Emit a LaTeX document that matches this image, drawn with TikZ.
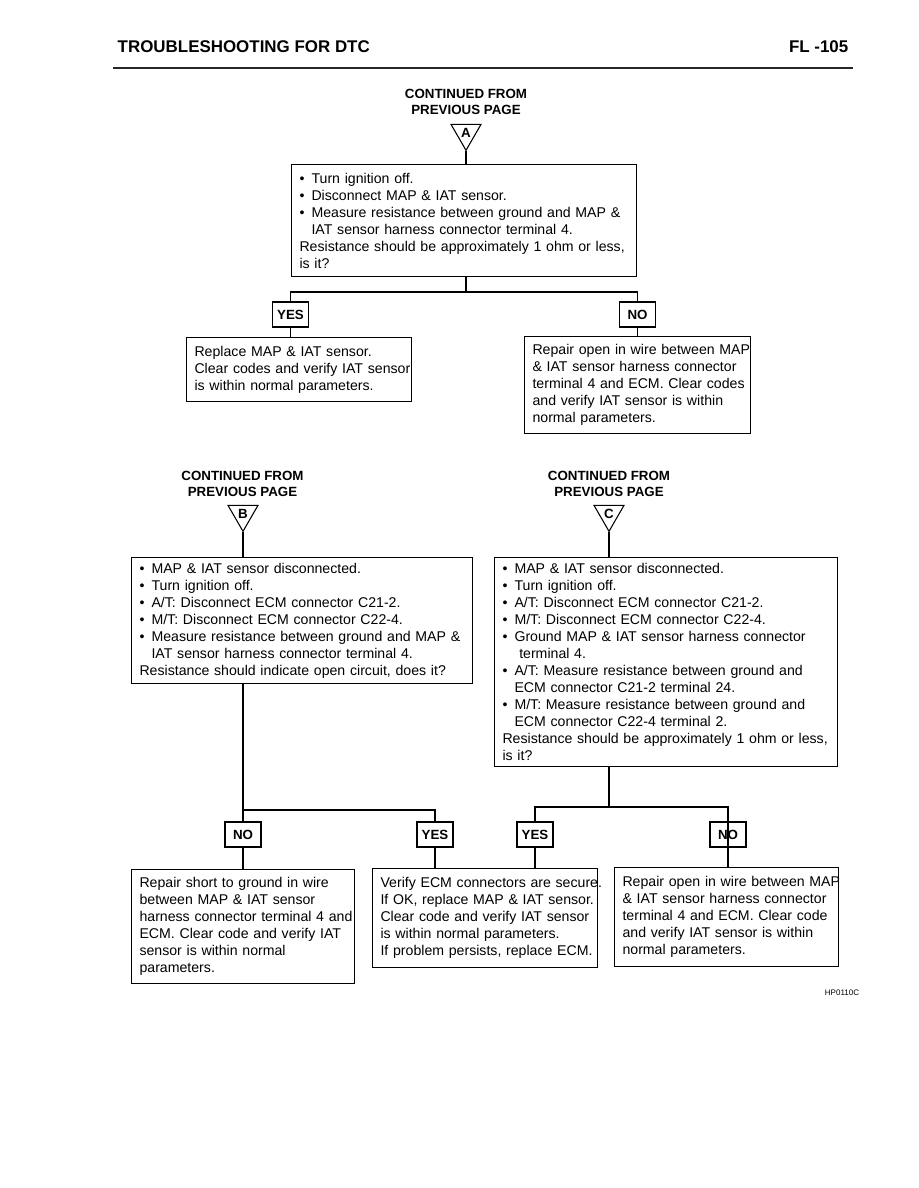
\documentclass[tikz,border=0pt]{standalone}
\usepackage{fontspec}
\setmainfont{Liberation Sans}
\usetikzlibrary{positioning,shapes.geometric}
\newcommand{\bul}{\makebox[9pt][l]{\textbullet}}
\newcommand{\ind}{\hspace*{9pt}}

\begin{document}
\begin{tikzpicture}[x=0.75pt, y=-0.75pt,
  font=\fontsize{10.6}{12.75}\selectfont,
  box/.style={draw, line width=0.8pt, anchor=north west, align=left, inner xsep=6pt, inner ysep=2pt, text width=#1},
  box/.default=156pt,
  tag/.style={draw, line width=0.8pt, font=\fontsize{10}{12}\selectfont\bfseries, minimum width=27pt, minimum height=18.75pt, inner sep=1pt},
  cont/.style={font=\fontsize{10}{12}\selectfont\bfseries, align=center},
  trig/.style={draw, line width=0.8pt, regular polygon, regular polygon sides=3, shape border rotate=180,
    minimum size=26pt, inner sep=0pt, font=\fontsize{10}{11}\selectfont\bfseries},
  wire/.style={line width=0.8pt}]
\useasboundingbox (0,0) rectangle (918,1188);
\node[anchor=west, font=\fontsize{12.7}{15}\selectfont\bfseries] (title) at (113,47) {TROUBLESHOOTING FOR DTC};
\node[anchor=east, font=\fontsize{12.7}{15}\selectfont\bfseries] (pagenum) at (853,47) {FL -105};
\draw[line width=2.2pt, black!85] (113,68) -- (853,68);

\node[cont] (contA) at (466,102) {CONTINUED FROM\\PREVIOUS PAGE};
\node[trig] (trA) at (466,133) {A};
\node[box=246.75pt, minimum height=84pt] (q1) at (291,164) {\bul Turn ignition off.\\
  \bul Disconnect MAP \& IAT sensor.\\
  \bul Measure resistance between ground and MAP \&\\
  \ind IAT sensor harness connector terminal 4.\\
  Resistance should be approximately 1 ohm or less,\\
  is it?};
\coordinate (j1) at (466,292);
\node[tag] (yes1) at (290.5,314.5) {YES};
\node[tag] (no1) at (637.5,314.5) {NO};
\node[box=156.75pt, minimum height=48pt] (resY1) at (186,337) {Replace MAP \& IAT sensor.\\
  \mbox{Clear codes and verify IAT sensor}\\
  is within normal parameters.};
\node[box=157.5pt, minimum height=72.75pt] (resN1) at (524,336) {\mbox{Repair open in wire between MAP}\\
  \mbox{\& IAT sensor harness connector}\\
  \mbox{terminal 4 and ECM. Clear codes}\\
  \mbox{and verify IAT sensor is within}\\
  normal parameters.};
\draw[wire] (trA.corner 1) -- (trA.corner 1 |- q1.north);
\draw[wire] (j1 |- q1.south) -- (j1);
\draw[wire] (yes1.north) |- (j1) -| (no1.north);
\draw[wire] (yes1.south) -- (yes1.south |- resY1.north);
\draw[wire] (no1.south) -- (no1.south |- resN1.north);

\node[cont] (contB) at (242.5,484) {CONTINUED FROM\\PREVIOUS PAGE};
\node[trig] (trB) at (243,514) {B};
\node[box=243.75pt, minimum height=94.5pt] (qB) at (131,557) {\bul MAP \& IAT sensor disconnected.\\
  \bul Turn ignition off.\\
  \bul A/T: Disconnect ECM connector C21-2.\\
  \bul M/T: Disconnect ECM connector C22-4.\\
  \bul Measure resistance between ground and MAP \&\\
  \ind IAT sensor harness connector terminal 4.\\
  Resistance should indicate open circuit, does it?};
\node[cont] (contC) at (609,484) {CONTINUED FROM\\PREVIOUS PAGE};
\node[trig] (trC) at (609,514) {C};
\node[box=245.25pt, minimum height=156.75pt] (qC) at (494,557) {\bul MAP \& IAT sensor disconnected.\\
  \bul Turn ignition off.\\
  \bul A/T: Disconnect ECM connector C21-2.\\
  \bul M/T: Disconnect ECM connector C22-4.\\
  \bul Ground MAP \& IAT sensor harness connector\\
  \ind\ terminal 4.\\
  \bul A/T: Measure resistance between ground and\\
  \ind ECM connector C21-2 terminal 24.\\
  \bul M/T: Measure resistance between ground and\\
  \ind ECM connector C22-4 terminal 2.\\
  Resistance should be approximately 1 ohm or less,\\
  is it?};
\draw[wire] (trB.corner 1) -- (trB.corner 1 |- qB.north);
\draw[wire] (trC.corner 1) -- (trC.corner 1 |- qC.north);

\coordinate (jB) at (243,810);
\coordinate (jC) at (609,807);
\node[tag] (noB) at (243,834.5) {NO};
\node[tag] (yesB) at (435,834.5) {YES};
\node[tag] (yesC) at (535,834.5) {YES};
\node[tag] (noC) at (728,834.5) {NO};
\node[box=155.25pt, minimum height=85.5pt] (resBn) at (131,869) {Repair short to ground in wire\\
  between MAP \& IAT sensor\\
  \mbox{harness connector terminal 4 and}\\
  ECM. Clear code and verify IAT\\
  sensor is within normal\\
  parameters.};
\node[box=156.75pt, minimum height=74.25pt] (resBy) at (372,868) {\mbox{Verify ECM connectors are secure.}\\
  \mbox{If OK, replace MAP \& IAT sensor.}\\
  Clear code and verify IAT sensor\\
  is within normal parameters.\\
  \mbox{If problem persists, replace ECM.}};
\node[box=156pt, minimum height=74.25pt] (resCn) at (614,867) {\mbox{Repair open in wire between MAP}\\
  \mbox{\& IAT sensor harness connector}\\
  \mbox{terminal 4 and ECM. Clear code}\\
  \mbox{and verify IAT sensor is within}\\
  normal parameters.};
\draw[wire] (jB |- qB.south) -- (noB.north);
\draw[wire] (jB) -| (yesB.north);
\draw[wire] (noB.south) -- (noB.south |- resBn.north);
\draw[wire] (yesB.south) -- (yesB.south |- resBy.north);
\draw[wire] (jC |- qC.south) -- (jC);
\draw[wire] (yesC.north) |- (jC) -| (noC.north);
\draw[wire] (yesC.south) -- (yesC.south |- resBy.north);
\draw[wire] (noC.north) -- (noC.north |- resCn.north);

\node[font=\fontsize{6}{7}\selectfont] (code) at (842,993) {HP0110C};
\end{tikzpicture}
\end{document}
